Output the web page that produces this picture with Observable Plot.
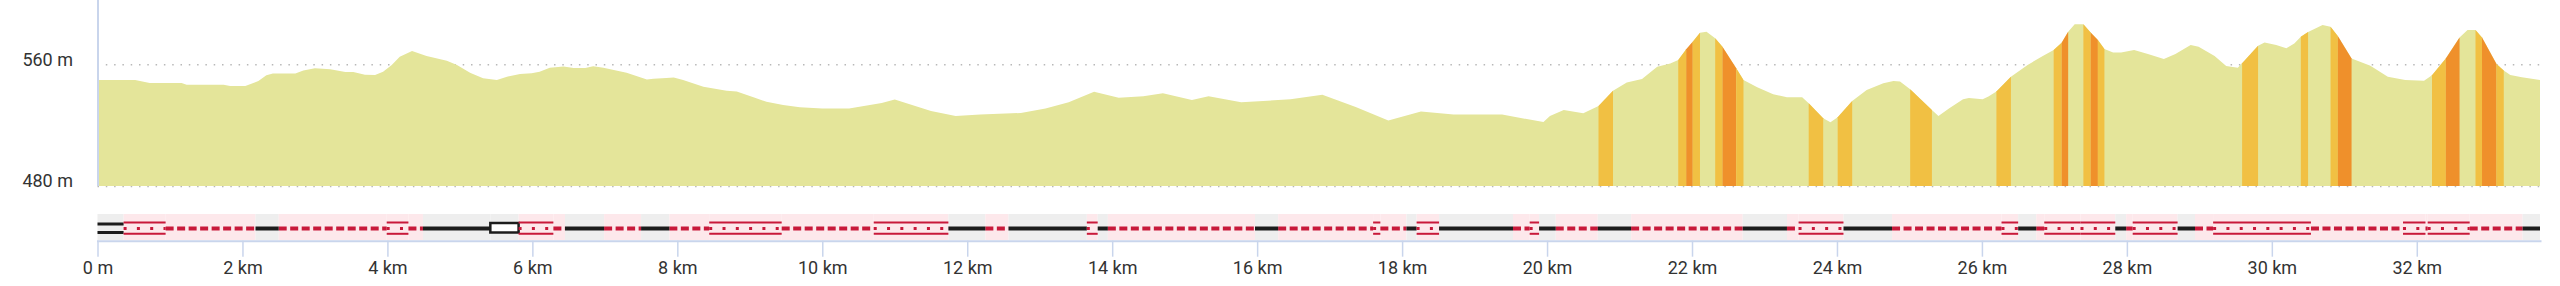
<!DOCTYPE html>
<html><head><meta charset="utf-8">
<script src="https://cdn.jsdelivr.net/npm/d3@7"></script>
<script src="https://cdn.jsdelivr.net/npm/@observablehq/plot@0.6"></script>
<style>
body{margin:0;background:#fff;}
#chart svg{display:block;}
</style></head><body><div id="chart"></div>
<script>
// Elevation profile (distance in km, elevation in m)
const distanceKm = [0,0.52,0.72,1.16,1.23,1.74,1.83,2.04,2.22,2.33,2.42,2.73,2.84,3.0,3.21,3.42,3.53,3.69,3.83,3.94,4.06,4.17,4.34,4.54,4.82,4.96,5.14,5.32,5.51,5.65,5.83,5.99,6.1,6.24,6.43,6.57,6.73,6.84,6.98,7.3,7.58,7.67,7.85,7.95,8.08,8.36,8.68,8.82,9.05,9.23,9.46,9.69,10.0,10.37,10.82,11.0,11.5,11.84,12.18,12.74,13.08,13.4,13.75,14.09,14.43,14.7,15.1,15.33,15.78,16.46,16.9,17.36,17.81,18.26,18.71,19.38,19.95,20.04,20.23,20.5,20.71,20.91,21.1,21.31,21.52,21.7,21.81,21.92,22.01,22.11,22.2,22.32,22.42,22.61,22.71,22.9,23.12,23.31,23.52,23.61,23.81,23.91,24.01,24.21,24.41,24.64,24.78,24.87,25.01,25.31,25.4,25.55,25.74,25.82,26.01,26.09,26.2,26.4,26.63,26.84,26.99,27.1,27.19,27.28,27.4,27.5,27.6,27.69,27.81,27.92,28.1,28.29,28.51,28.67,28.88,28.99,29.21,29.37,29.53,29.59,29.81,29.9,30.06,30.2,30.31,30.4,30.5,30.7,30.81,30.91,31.1,31.36,31.6,31.84,32.1,32.21,32.4,32.59,32.7,32.81,32.9,33.1,33.2,33.29,33.45,33.7];
const elevationM = [549.7,549.7,547.7,547.7,546.6,546.6,545.7,545.7,549,552.8,553.9,553.9,555.9,557.4,556.8,555,555,553.2,553,555.2,559.6,565,568.7,565.5,562.4,559.6,554.5,550.8,549.7,551.9,553.6,554.1,555.2,557.8,558.5,557.6,557.6,558.7,557.8,554.5,550.1,550.5,551,551.4,549.7,545.3,542.6,542.2,538.3,535.4,533.2,531.7,531,531,534.6,536.8,529.3,526,527,528,531,535,542,538,539,541,536.6,539,535,537,540,532,523,529,527,527,522,526,530,527.8,532.6,542.7,548,550.4,558.4,560.6,562.8,569.9,574.9,580.8,581.5,577.1,571.6,557.4,549.7,544.9,540.3,538.3,538.3,534.4,524.5,521.9,525.2,535.9,543.1,547.5,549,548.7,543.6,530,526,531.2,537.1,537.8,537.1,538.9,542.1,551.9,559.6,565.5,569.4,574.2,581.4,586.4,586.4,581,576,570,567.8,567.8,569.4,566.8,563.5,566.8,572.7,571.6,565.5,558.9,557.8,560.7,572.2,574.4,572.7,570.5,573.7,578.1,581.2,585.8,584.7,578.6,563.9,559.1,551.9,549.7,549.2,552.9,563.9,577.7,582.6,582.6,577.7,560.2,555.9,553,551.5,549.7];

// Gradient bands under the profile
const bandStart = [20.71,21.81,21.92,22.01,22.32,22.42,22.61,23.61,24.01,25.01,26.2,26.99,27.1,27.4,27.5,27.6,29.59,30.4,30.81,30.91,32.21,32.4,32.81,32.9,33.1];
const bandEnd   = [20.91,21.92,22.01,22.11,22.42,22.61,22.71,23.81,24.21,25.31,26.4,27.1,27.19,27.5,27.6,27.69,29.81,30.5,30.91,31.1,32.4,32.59,32.9,33.1,33.2];
const bandClass = ["mid","mid","steep","mid","mid","steep","mid","mid","mid","mid","mid","mid","steep","mid","steep","mid","mid","mid","mid","steep","mid","steep","mid","steep","mid"];

// Way types along the route
const wayStart = [0,0.36,0.94,2.18,2.5,3.99,4.29,4.49,5.42,5.81,6.29,6.45,6.99,7.5,7.89,8.44,9.44,10.71,11.74,12.25,12.57,13.65,13.8,13.94,15.97,16.29,17.6,17.7,18.06,18.2,18.51,19.53,19.76,19.89,20.12,20.7,21.16,22.7,23.31,23.47,24.09,24.76,26.27,26.5,26.75,26.86,27.36,27.84,27.99,28.08,28.7,28.94,29.19,30.54,31.81,32.12,32.15,32.73,33.46];
const wayEnd   = [0.36,0.94,2.18,2.5,3.99,4.29,4.49,5.42,5.81,6.29,6.45,6.99,7.5,7.89,8.44,9.44,10.71,11.74,12.25,12.57,13.65,13.8,13.94,15.97,16.29,17.6,17.7,18.06,18.2,18.51,19.53,19.76,19.89,20.12,20.7,21.16,22.7,23.31,23.47,24.09,24.76,26.27,26.5,26.75,26.86,27.36,27.84,27.99,28.08,28.7,28.94,29.19,30.54,31.81,32.12,32.15,32.73,33.46,33.7];
const wayType  = ["double","redbox","dash","black","dash","redbox","dash","black","blackbox","redbox","dash","black","dash","black","dash","redbox","dash","redbox","black","dash","black","redbox","black","dash","black","dash","redbox","dash","black","redbox","black","dash","redbox","black","dash","black","dash","black","dash","redbox","black","dash","redbox","black","dash","redbox","redbox","black","dash","redbox","black","dash","redbox","dash","redbox","dash","redbox","dash","black"];

const xTicks = [0,2,4,6,8,10,12,14,16,18,20,22,24,26,28,30,32];
const yTicks = [480,560];
const xDomain = [0,33.7];
const yDomain = [480,602.3];

const W = 2560, ML = 97.5, MR = 20;
const axisBlue = "#c9d5ec";
const textColor = "#333333";
const slopeColor = {mid:"#f1c043", steep:"#ef902b"};
const red = "#c8193a", black = "#1c1c1c";

const profile = distanceKm.map((km,i)=>({km, elev: elevationM[i]}));
const bandRows = bandStart.flatMap((s,j)=>profile
  .filter(p=>p.km>=s-1e-6 && p.km<=bandEnd[j]+1e-6)
  .map(p=>({...p, band:j, color: slopeColor[bandClass[j]]})));

const profileChart = Plot.plot({
  width: W, height: 200, marginLeft: ML, marginRight: MR, marginTop: 0, marginBottom: 14,
  x: {domain: xDomain, axis: null, label: null},
  y: {domain: yDomain, axis: null, label: null},
  color: {type: "identity"},
  style: {fontFamily: "Roboto, sans-serif", fontSize: "18px", color: textColor, background: "white"},
  marks: [
    Plot.gridY(yTicks, {stroke: "#b8b8b8", strokeOpacity: 1, strokeWidth: 1.5, strokeDasharray: "1.5,6.8"}),
    Plot.areaY(profile, {x: "km", y1: yDomain[0], y2: "elev", fill: "#e4e59a"}),
    Plot.areaY(bandRows, {x: "km", y1: yDomain[0], y2: "elev", z: "band", fill: "color"}),
    Plot.ruleX([xDomain[0]], {stroke: axisBlue, strokeWidth: 2}),
    Plot.axisY(yTicks, {label: null, tickSize: 0, tickPadding: 25, dy: -5, tickFormat: d => `${d} m`, fontSize: 18, fill: textColor})
  ]
});

const ways = wayStart.map((s,i)=>({s, e: wayEnd[i], type: wayType[i], track: "way"}));
const isRoad = t => t === "black" || t === "double" || t === "blackbox";
const of = t => ways.filter(d => d.type === t);

const wayChart = Plot.plot({
  width: W, height: 86, marginLeft: ML, marginRight: MR, marginTop: 14, marginBottom: 45.3,
  x: {domain: xDomain, label: null},
  y: {domain: ["way"], axis: null, padding: 0, label: null},
  color: {type: "identity"},
  style: {fontFamily: "Roboto, sans-serif", fontSize: "18px", color: textColor, background: "white"},
  marks: [
    Plot.barX(ways, {x1: "s", x2: "e", y: "track", fill: d => isRoad(d.type) ? "#eeeeee" : "#fde8eb"}),
    Plot.ruleY(of("dash"), {x1: "s", x2: "e", y: "track", dy: 1, stroke: red, strokeWidth: 4, strokeDasharray: "8,3.5"}),
    Plot.ruleY(of("black"), {x1: "s", x2: "e", y: "track", dy: 1, stroke: black, strokeWidth: 4}),
    Plot.ruleY(of("double"), {x1: "s", x2: "e", y: "track", dy: -3.5, stroke: black, strokeWidth: 3}),
    Plot.ruleY(of("double"), {x1: "s", x2: "e", y: "track", dy: 5, stroke: black, strokeWidth: 3}),
    Plot.barX(of("blackbox"), {x1: "s", x2: "e", y: "track", insetTop: 9, insetBottom: 7.5, fill: "white", stroke: black, strokeWidth: 2.5}),
    Plot.ruleY(of("redbox"), {x1: "s", x2: "e", y: "track", dy: -5, stroke: red, strokeWidth: 2}),
    Plot.ruleY(of("redbox"), {x1: "s", x2: "e", y: "track", dy: 6.3, stroke: red, strokeWidth: 2}),
    Plot.ruleY(of("redbox"), {x1: "s", x2: "e", y: "track", dy: 1, stroke: red, strokeWidth: 3, strokeDasharray: "3,10.3"}),
    Plot.frame({anchor: "bottom", stroke: axisBlue, strokeWidth: 2}),
    Plot.axisX(xTicks, {label: null, tickSize: 16, tickPadding: 4, stroke: axisBlue, strokeWidth: 1.5, fontSize: 18, fill: textColor,
      tickFormat: d => d === 0 ? "0 m" : `${d} km`})
  ]
});

document.getElementById("chart").append(profileChart, wayChart);
</script></body></html>
